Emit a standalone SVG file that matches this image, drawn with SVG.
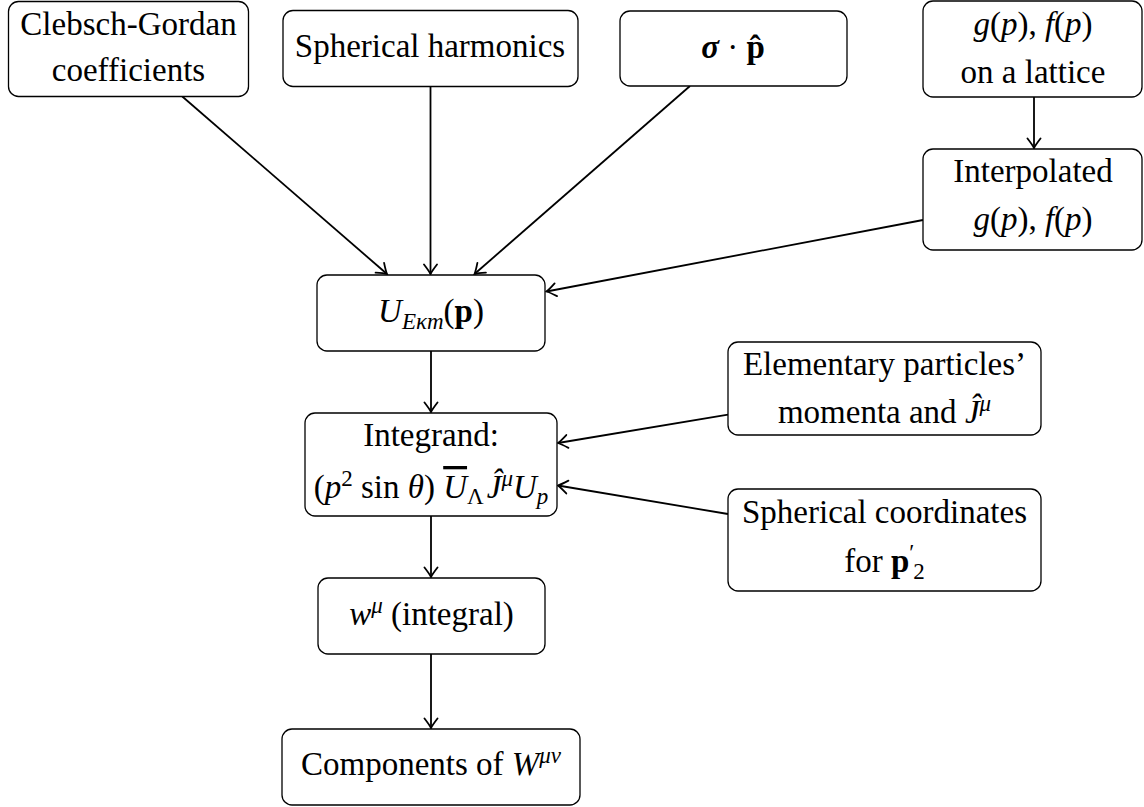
<svg xmlns="http://www.w3.org/2000/svg" width="1144" height="807" viewBox="0 0 1144 807">
<style>
.nbox{fill:#fff;stroke:#000;stroke-width:1.3}
.edge{stroke:#000;stroke-width:1.8;fill:none;marker-end:url(#arr)}
</style>
<defs>
<marker id="arr" markerUnits="userSpaceOnUse" viewBox="-12 -8 14 16" refX="0" refY="0" markerWidth="14" markerHeight="16" orient="auto">
<path d="M-9.5,-6.5 Q-3,-1.5 0,0 Q-3,1.5 -9.5,6.5" fill="none" stroke="#000" stroke-width="1.8" stroke-linecap="round"/>
</marker>
</defs>
<rect width="1144" height="807" fill="#fff"/>
<g id="connectors">
<line class="edge" x1="182.3" y1="96.5" x2="387" y2="274"/>
<line class="edge" x1="430.5" y1="86" x2="430.5" y2="274"/>
<line class="edge" x1="690" y1="86" x2="474.5" y2="274"/>
<line class="edge" x1="1034" y1="97" x2="1034" y2="148"/>
<line class="edge" x1="923" y1="220" x2="546.5" y2="291.5"/>
<line class="edge" x1="431" y1="351" x2="431" y2="412"/>
<line class="edge" x1="728" y1="414.6" x2="558" y2="443"/>
<line class="edge" x1="728" y1="514" x2="558" y2="485.5"/>
<line class="edge" x1="431" y1="516" x2="431" y2="577"/>
<line class="edge" x1="431" y1="654" x2="431" y2="728"/>
</g>
<g id="nodes" font-family="Liberation Serif" font-size="33" text-anchor="middle" fill="#000">
<g id="clebsch">
<rect class="nbox" x="8.5" y="1.5" width="240" height="95" rx="10"/>
<text x="128.5" y="35">Clebsch-Gordan</text>
<text x="128.5" y="81">coefficients</text>
</g>
<g id="sphharm">
<rect class="nbox" x="283" y="10.5" width="295" height="76" rx="10"/>
<text x="430" y="57">Spherical harmonics</text>
</g>
<g id="sigmap">
<rect class="nbox" x="620" y="11" width="227" height="75" rx="10"/>
<text x="733" y="58"><tspan font-weight="bold" font-style="italic">σ</tspan> · <tspan font-weight="bold">p̂</tspan></text>
</g>
<g id="lattice">
<rect class="nbox" x="923" y="1" width="219" height="96" rx="10"/>
<text x="1033" y="35"><tspan font-style="italic">g</tspan>(<tspan font-style="italic">p</tspan>), <tspan font-style="italic">f</tspan>(<tspan font-style="italic">p</tspan>)</text>
<text x="1033" y="83">on a lattice</text>
</g>
<g id="interp">
<rect class="nbox" x="923" y="149" width="219" height="101" rx="10"/>
<text x="1033" y="182">Interpolated</text>
<text x="1033" y="230"><tspan font-style="italic">g</tspan>(<tspan font-style="italic">p</tspan>), <tspan font-style="italic">f</tspan>(<tspan font-style="italic">p</tspan>)</text>
</g>
<g id="uekm">
<rect class="nbox" x="317" y="275" width="228" height="76" rx="10"/>
<text x="431" y="322"><tspan font-style="italic">U</tspan><tspan font-style="italic" font-size="23" dy="7">Eκm</tspan><tspan dy="-7">(</tspan><tspan font-weight="bold">p</tspan>)</text>
</g>
<g id="integrand">
<rect class="nbox" x="305" y="413" width="252" height="103" rx="10"/>
<text x="431" y="446">Integrand:</text>
<text x="431" y="498">(<tspan font-style="italic">p</tspan><tspan font-size="23" dy="-12">2</tspan><tspan dy="12"> sin </tspan><tspan font-style="italic">θ</tspan>) <tspan font-style="italic" text-decoration="overline">U</tspan><tspan font-size="23" dy="6">Λ</tspan><tspan font-style="italic" dy="-6" dx="3">Ĵ</tspan><tspan font-style="italic" font-size="23" dy="-12">μ</tspan><tspan font-style="italic" dy="12">U</tspan><tspan font-style="italic" font-size="23" dy="6">p</tspan></text>
</g>
<g id="elementary">
<rect class="nbox" x="728" y="342" width="313" height="93" rx="10"/>
<text x="884.5" y="375">Elementary particles’</text>
<text x="884.5" y="423">momenta and <tspan font-style="italic">Ĵ</tspan><tspan font-style="italic" font-size="23" dy="-12">μ</tspan></text>
</g>
<g id="sphcoords">
<rect class="nbox" x="728" y="489" width="313" height="102" rx="10"/>
<text x="884.5" y="523">Spherical coordinates</text>
<text x="884.5" y="572">for <tspan font-weight="bold">p</tspan><tspan font-size="23" dy="-12">′</tspan><tspan font-size="23" dx="-1" dy="19">2</tspan></text>
</g>
<g id="wmu">
<rect class="nbox" x="318" y="578" width="227" height="76" rx="10"/>
<text x="431.5" y="625"><tspan font-style="italic">w</tspan><tspan font-style="italic" font-size="23" dy="-12">μ</tspan><tspan dy="12"> (integral)</tspan></text>
</g>
<g id="components">
<rect class="nbox" x="282" y="729" width="298" height="76" rx="10"/>
<text x="431" y="775">Components of <tspan font-style="italic">W</tspan><tspan font-style="italic" font-size="23" dy="-12">μν</tspan></text>
</g>
</g>
</svg>
